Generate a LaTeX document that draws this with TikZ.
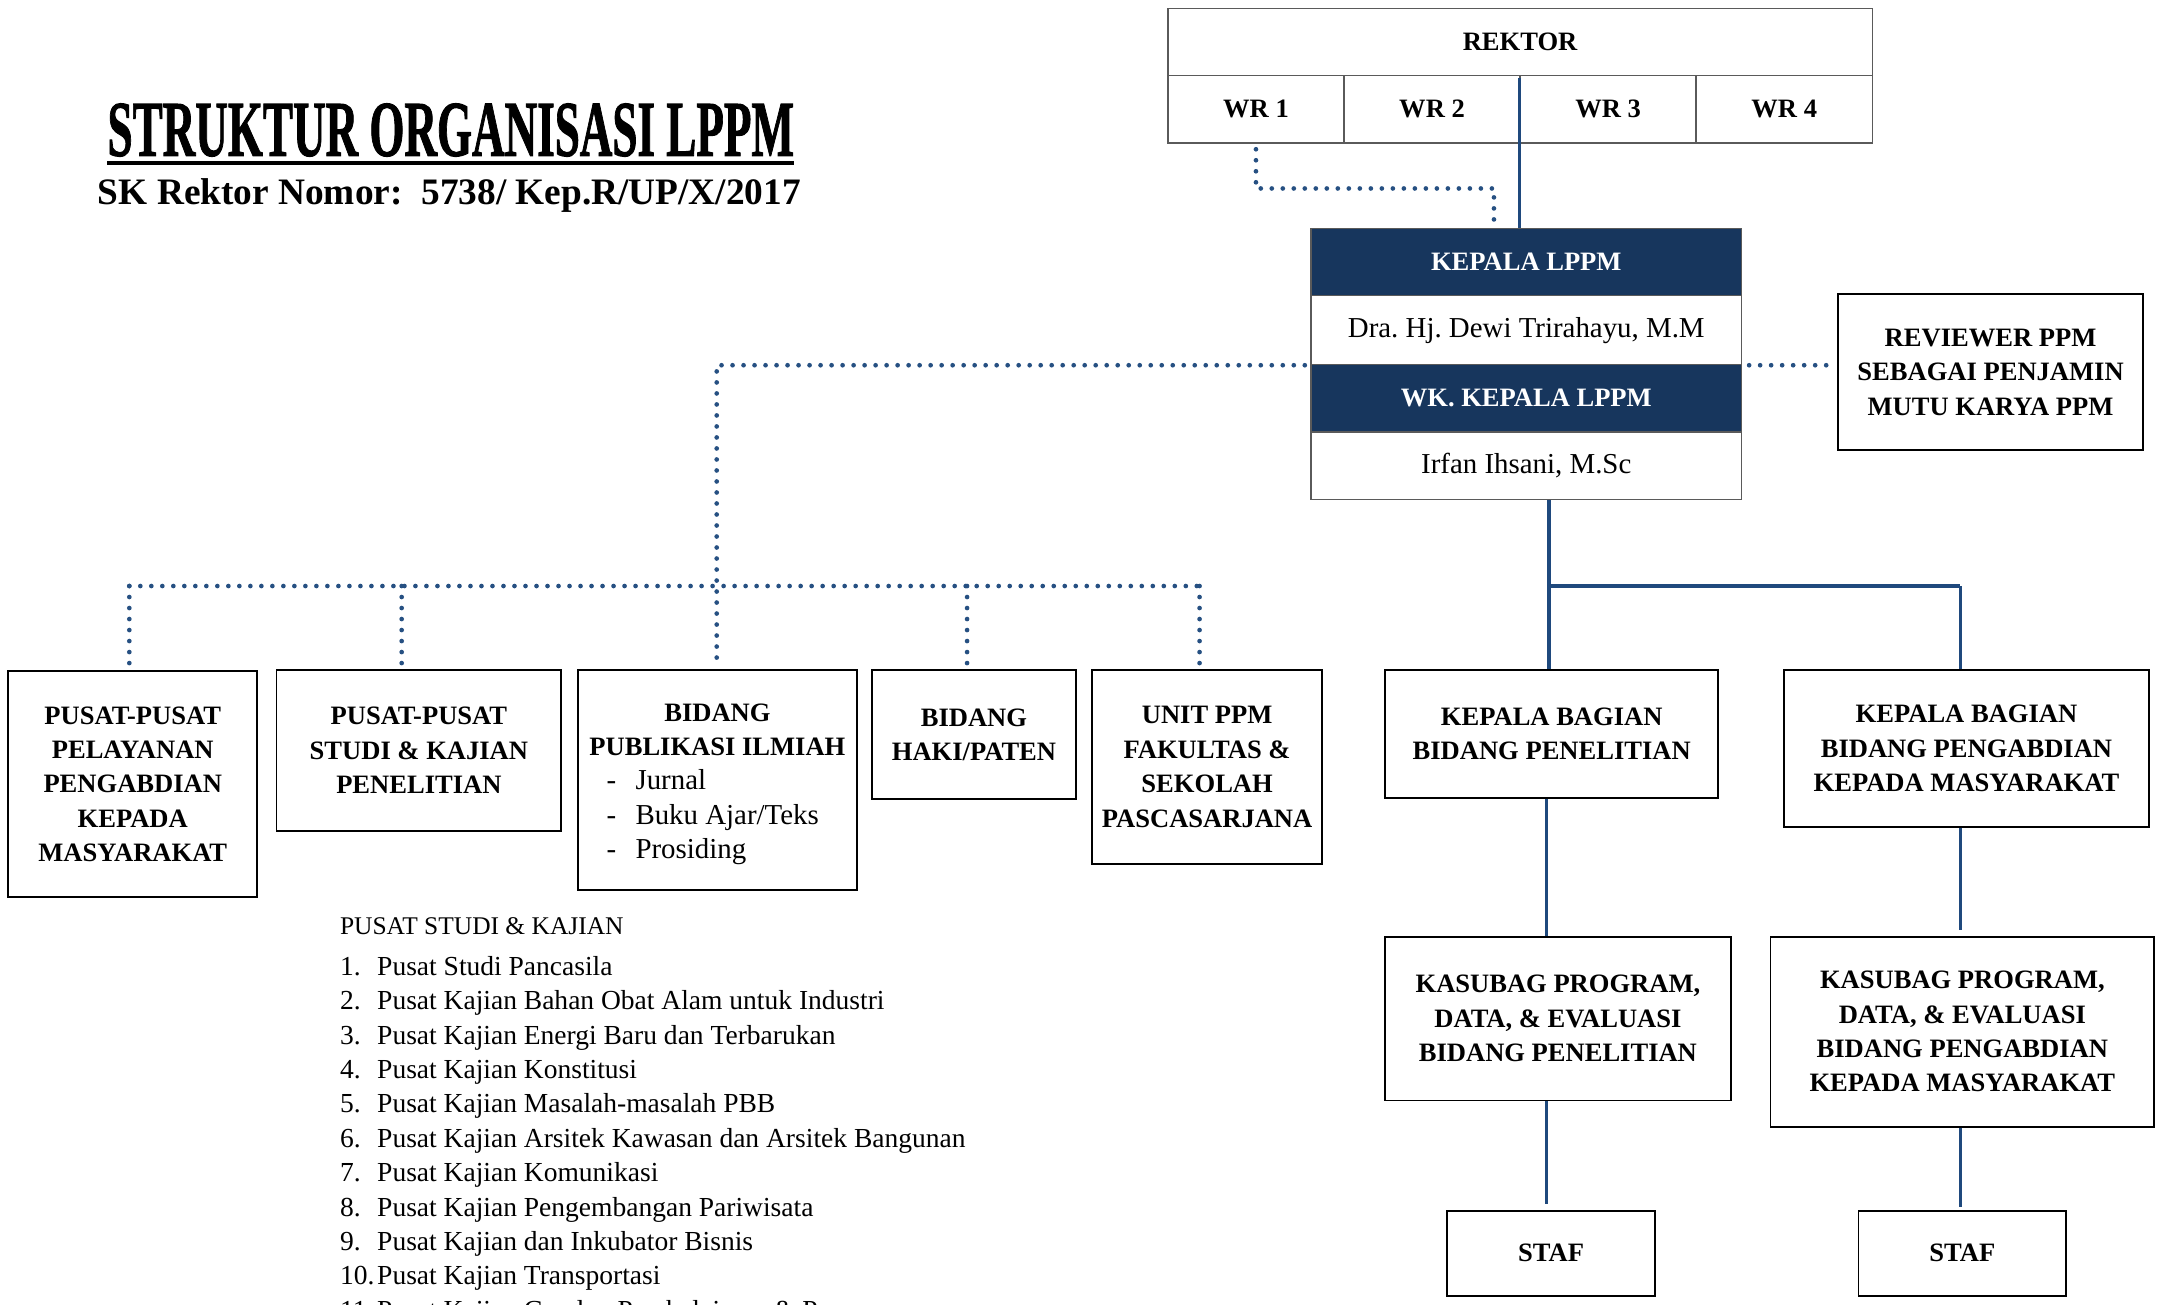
\documentclass[tikz,border=0pt]{standalone}
\usepackage{fontspec}
\setmainfont{Liberation Serif}
\newfontfamily\titlefont{Liberation Serif}[BoldFeatures={FakeBold=1.5}]
\usepackage{graphicx}
\frenchspacing
\definecolor{navy}{RGB}{23,54,93}
\definecolor{lnblue}{RGB}{31,73,125}
\definecolor{dotblue}{RGB}{38,80,130}
\definecolor{cellgray}{RGB}{90,90,90}
\newcommand\bxfont{\fontsize{19.3}{25}\selectfont\bfseries}
\newcommand\nmfont{\fontsize{21}{25}\selectfont\mdseries}
\newcommand\lsfont{\fontsize{20}{25}\selectfont}
\newcommand\lhfont{\fontsize{18.5}{25}\selectfont}
\tikzset{
  box/.style={draw=black, line width=1.4pt, inner sep=0pt, align=center, font=\bxfont},
  cell/.style={draw=cellgray, line width=1pt, inner sep=0pt, align=center},
  hdr/.style={cell, fill=navy, text=white, font=\bxfont},
  namecell/.style={cell, font=\nmfont},
  solidln/.style={draw=lnblue, line width=2.4pt},
  dotln/.style={draw=dotblue, line width=3.4pt, line cap=round, dash pattern=on 0pt off 8pt},
  listtxt/.style={anchor=base west, inner sep=0pt, font=\lsfont},
}
\begin{document}
\begin{tikzpicture}[x=1pt,y=-1pt]
\useasboundingbox (0,0) rectangle (1568,948);

% title
\node[anchor=south west, inner sep=0pt] (title) at (78,114)
  {\resizebox{499pt}{38pt}{\titlefont\bfseries STRUKTUR\ ORGANISASI\ LPPM}};
\draw[line width=3.4pt] ([yshift=-4.5pt]title.south west) -- ([yshift=-4.5pt]title.south east);
\node[anchor=base west, inner sep=0pt] (sub) at (71,149)
  {\resizebox{511pt}{!}{\bfseries SK Rektor Nomor:\ \ 5738/ Kep.R/UP/X/2017}};

% rektor table
\node[cell, font=\bxfont, minimum width=512pt, minimum height=49pt] (rek) at (1105,30.5) {REKTOR};
\node[cell, font=\bxfont, minimum width=128pt, minimum height=49pt] (wr1) at (913,79.5) {WR 1};
\node[cell, font=\bxfont, minimum width=128pt, minimum height=49pt] (wr2) at (1041,79.5) {WR 2};
\node[cell, font=\bxfont, minimum width=128pt, minimum height=49pt] (wr3) at (1169,79.5) {WR 3};
\node[cell, font=\bxfont, minimum width=128pt, minimum height=49pt] (wr4) at (1297,79.5) {WR 4};

% kepala block
\node[hdr, minimum width=313pt, minimum height=49pt] (kh) at (1109.5,190.5) {KEPALA LPPM};
\node[namecell, minimum width=313pt, minimum height=50pt] (kn) at (1109.5,240) {Dra. Hj. Dewi Trirahayu, M.M};
\node[hdr, minimum width=313pt, minimum height=49pt] (wh) at (1109.5,289.5) {WK. KEPALA LPPM};
\node[namecell, minimum width=313pt, minimum height=49pt] (wn) at (1109.5,338.5) {Irfan Ihsani, M.Sc};

% reviewer
\node[box, minimum width=222pt, minimum height=113pt] (rev) at (1447,270.5) {REVIEWER PPM\\SEBAGAI PENJAMIN\\MUTU KARYA PPM};

% left boxes
\node[box, minimum width=181pt, minimum height=164pt] (pel) at (96.5,570) {PUSAT-PUSAT\\PELAYANAN\\PENGABDIAN\\KEPADA\\MASYARAKAT};
\node[box, minimum width=207pt, minimum height=117pt] (stu) at (304.5,545.5) {PUSAT-PUSAT\\STUDI \& KAJIAN\\PENELITIAN};
\node[box, minimum width=203pt, minimum height=160pt] (pub) at (521.5,567) {};
\node[inner sep=0pt, align=center, font=\bxfont] (pubt) at (521.5,570)
  {BIDANG\\PUBLIKASI ILMIAH\\
   \makebox[161pt][l]{\nmfont -\hspace{14pt}Jurnal}\\
   \makebox[161pt][l]{\nmfont -\hspace{14pt}Buku Ajar/Teks}\\
   \makebox[161pt][l]{\nmfont -\hspace{14pt}Prosiding}};
\node[box, minimum width=148pt, minimum height=94pt] (haki) at (708,534) {BIDANG\\HAKI/PATEN};
\node[box, minimum width=167pt, minimum height=141pt] (unit) at (877.5,557.5) {UNIT PPM\\FAKULTAS \&\\SEKOLAH\\PASCASARJANA};

% right boxes
\node[box, minimum width=242pt, minimum height=93pt] (kb1) at (1128,533.5) {KEPALA BAGIAN\\BIDANG PENELITIAN};
\node[box, minimum width=265pt, minimum height=114pt] (kb2) at (1429.5,544) {KEPALA BAGIAN\\BIDANG PENGABDIAN\\KEPADA MASYARAKAT};
\node[box, minimum width=251pt, minimum height=119pt] (kas1) at (1132.5,740.5) {KASUBAG PROGRAM,\\DATA, \& EVALUASI\\BIDANG PENELITIAN};
\node[box, minimum width=279pt, minimum height=138pt] (kas2) at (1426.5,750) {KASUBAG PROGRAM,\\DATA, \& EVALUASI\\BIDANG PENGABDIAN\\KEPADA MASYARAKAT};
\node[box, minimum width=151pt, minimum height=62pt] (staf1) at (1127.5,911) {STAF};
\node[box, minimum width=151pt, minimum height=62pt] (staf2) at (1426.5,911) {STAF};

% connectors top
\draw[solidln] ([yshift=-2pt]wr3.north west) -- (wr3.north west |- kh.north);
\coordinate (d1) at (1086,137);
\draw[dotln] ([yshift=-4pt]wr1.south) |- (d1) -- ([yshift=3pt]d1 |- kh.north);
\draw[dotln] ([xshift=5pt]kn.south east) -- ([xshift=-6pt]rev.west |- kn.south east);

% dotted tree
\coordinate (t1) at (94,426);
\coordinate (t2) at (292,426);
\coordinate (t3) at (521,426);
\coordinate (t4) at (703,426);
\coordinate (t5) at (872,426);
\draw[dotln] ([xshift=-4pt]kn.south west) -| ([yshift=3pt]t3 |- pub.north);
\draw[dotln] (t1) -- (t5);
\draw[dotln] (t1) -- ([yshift=1pt]t1 |- pel.north);
\draw[dotln] (t2) -- ([yshift=1pt]t2 |- stu.north);
\draw[dotln] (t4) -- ([yshift=1pt]t4 |- haki.north);
\draw[dotln] (t5) -- ([yshift=1pt]t5 |- unit.north);

% solid tree
\coordinate (j1) at (1126,426);
\coordinate (j2) at (1425,426);
\draw[solidln] (j1 |- wn.south) -- (j1 |- kb1.north);
\draw[solidln, line width=3pt] (j1) -- (j2);
\draw[solidln] (j2) -- (j2 |- kb2.north);
\coordinate (c1) at (1124,0);
\coordinate (c2) at (1425,0);
\draw[solidln] (c1 |- kb1.south) -- (c1 |- kas1.north);
\draw[solidln] (c1 |- kas1.south) -- ([yshift=4pt]c1 |- staf1.north);
\draw[solidln] (c2 |- kb2.south) -- ([yshift=4pt]c2 |- kas2.north);
\draw[solidln] (c2 |- kas2.south) -- ([yshift=2pt]c2 |- staf2.north);

% list
\node[anchor=base west, inner sep=0pt, font=\lhfont] (lh) at (247,679) {PUSAT STUDI \& KAJIAN};
\foreach \i/\t in {1/Pusat Studi Pancasila,
                   2/Pusat Kajian Bahan Obat Alam untuk Industri,
                   3/Pusat Kajian Energi Baru dan Terbarukan,
                   4/Pusat Kajian Konstitusi,
                   5/Pusat Kajian Masalah-masalah PBB,
                   6/Pusat Kajian Arsitek Kawasan dan Arsitek Bangunan,
                   7/Pusat Kajian Komunikasi,
                   8/Pusat Kajian Pengembangan Pariwisata,
                   9/Pusat Kajian dan Inkubator Bisnis,
                   10/Pusat Kajian Transportasi}{
  \node[listtxt] (n\i) at (247,684+25*\i) {\i.};
  \node[listtxt] (l\i) at (274,684+25*\i) {\t};
}
\begin{scope}
\clip (0,0) rectangle (1568,948);
\node[listtxt] (n11) at (247,959) {11.};
\node[listtxt] (l11) at (274,959) {Pusat Kajian Gender, Pembelajaran \& Pe};
\end{scope}
\end{tikzpicture}
\end{document}
